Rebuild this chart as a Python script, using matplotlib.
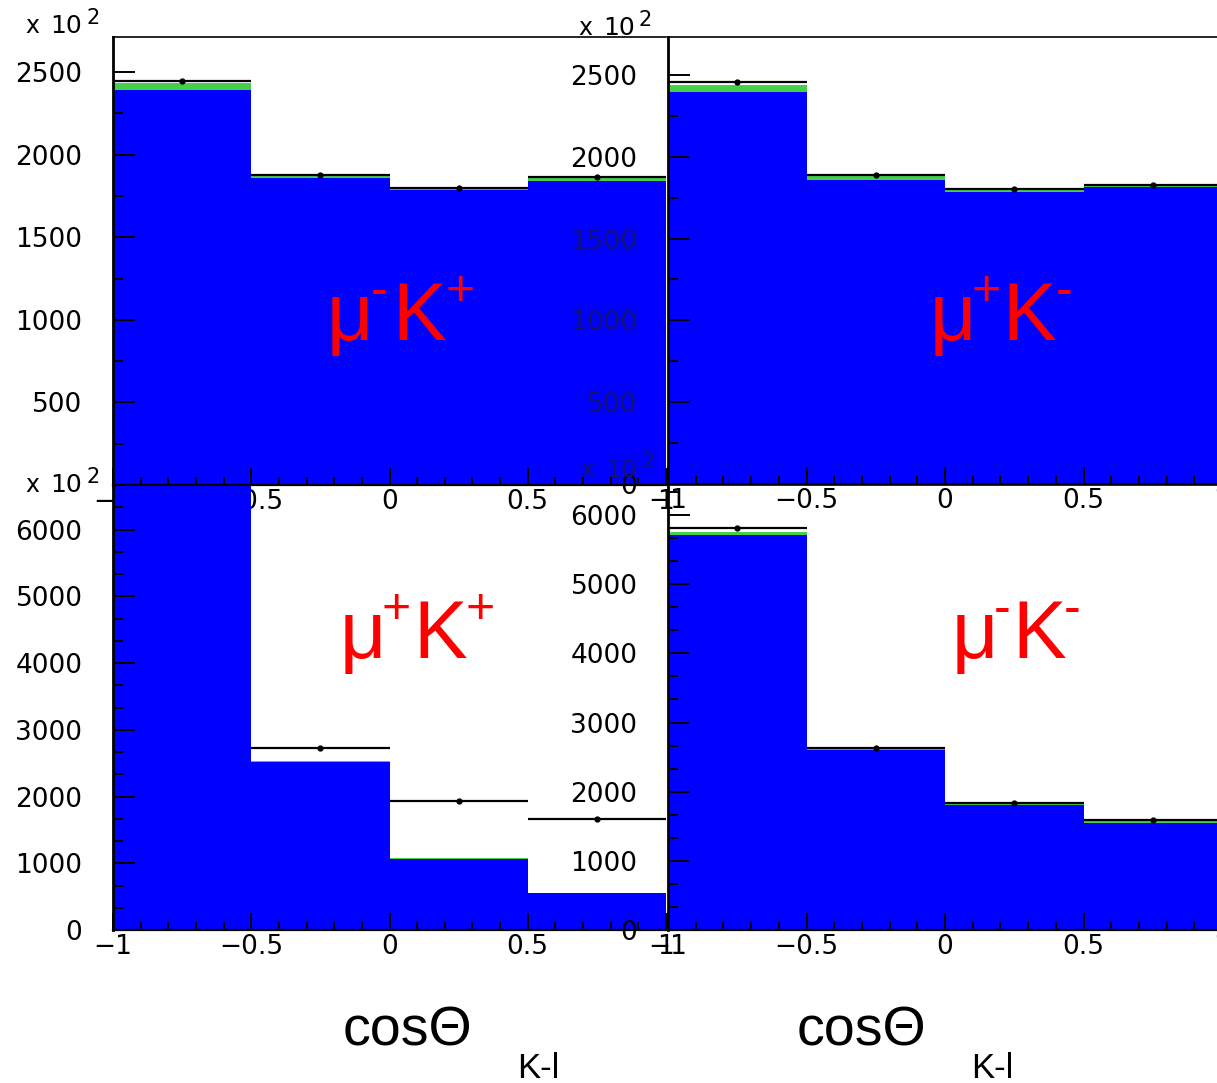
import numpy as np
import matplotlib
matplotlib.use('Agg')
import matplotlib.pyplot as plt
from matplotlib.ticker import MultipleLocator

plt.rcParams['font.family'] = ['DejaVu Sans']

W, H = 1217, 1083

# bin edges of cos(theta_K-l)
edges = [-1.0, -0.5, 0.0, 0.5, 1.0]
centers = [-0.75, -0.25, 0.25, 0.75]

# mu- K+ (top left), values in units of 10^2
tl_blue = [2390, 1860, 1785, 1842]
tl_green = [2436, 1885, 1800, 1870]
tl_data = [2447, 1879, 1800, 1867]

# mu+ K- (top right)
tr_blue = [2398, 1858, 1784, 1815]
tr_green = [2439, 1880, 1800, 1830]
tr_data = [2459, 1888, 1802, 1827]

# mu+ K+ (bottom left), first bin off scale
bl_blue = [7000, 2519, 1065, 555]
bl_green = [7050, 2540, 1075, 562]
bl_data = [7100, 2729, 1934, 1664]

# mu- K- (bottom right)
br_blue = [5708, 2600, 1806, 1546]
br_green = [5760, 2640, 1830, 1575]
br_data = [5809, 2630, 1835, 1590]

# channel labels: (muon sign, kaon sign)
channels = [('-', '+'), ('+', '-'), ('+', '+'), ('-', '-')]


def fx(x):
    return x / W


def fy(y):
    return 1 - y / H


fig = plt.figure(figsize=(W / 100, H / 100), dpi=100)
fig.patch.set_facecolor('white')


def panel(left, right, top, bottom, ymax, ystep, yminor, blue, green, data):
    ax = fig.add_axes([fx(left), fy(bottom), (right - left) / W, (bottom - top) / H])
    ax.set_facecolor('none')
    ax.stairs(blue, edges, baseline=0, fill=True, color='#0000ff', lw=0)
    ax.stairs(green, edges, baseline=blue, fill=True, color='#44d04a', lw=0)
    ax.errorbar(centers, data, xerr=0.25, fmt='o', ms=3.5, color='black',
                elinewidth=1.6, capsize=0)
    ax.set_xlim(-1, 1)
    ax.set_ylim(0, ymax)
    ax.xaxis.set_major_locator(MultipleLocator(0.5))
    ax.xaxis.set_minor_locator(MultipleLocator(0.1))
    ax.yaxis.set_major_locator(MultipleLocator(ystep))
    ax.yaxis.set_minor_locator(MultipleLocator(yminor))
    ax.xaxis.set_major_formatter(lambda v, p: ('%g' % v).replace('-', '\u2212'))
    ax.tick_params(axis='both', which='both', direction='in', width=1.4,
                   labelsize=19, colors='black')
    ax.tick_params(axis='y', which='major', length=16, pad=22)
    ax.tick_params(axis='y', which='minor', length=7)
    ax.tick_params(axis='x', which='major', length=12, pad=3)
    ax.tick_params(axis='x', which='minor', length=6)
    ax.spines['right'].set_visible(False)
    ax.spines['left'].set_linewidth(2)
    ax.spines['bottom'].set_linewidth(1.6)
    ax.spines['top'].set_linewidth(1.2)
    return ax


ax_tl = panel(113, 666, 37, 485, 2712, 500, 250, tl_blue, tl_green, tl_data)
ax_tl.yaxis.set_major_formatter(lambda v, p: '' if v == 0 else '%d' % v)
ax_tr = panel(668, 1222, 37, 484, 2732, 500, 250, tr_blue, tr_green, tr_data)
for lab in ax_tr.get_yticklabels():
    if 0 < lab.get_position()[1] < 1800:
        lab.set_color('#12127a')
ax_bl = panel(113, 666, 485, 930, 6670, 1000, 1000 / 3, bl_blue, bl_green, bl_data)
ax_br = panel(668, 1222, 485, 930, 6434, 1000, 1000 / 3, br_blue, br_green, br_data)

# x 10^2 multipliers
for x0, yb, col in [(25, 33, 'black'), (578, 35, 'black'), (25, 492, 'black'), (580, 477, '#12127a')]:
    fig.text(fx(x0), fy(yb), 'x', fontsize=17, color=col, va='baseline')
    fig.text(fx(x0 + 25), fy(yb), '10', fontsize=18, color=col, va='baseline')
    fig.text(fx(x0 + 61), fy(yb - 9), '2', fontsize=15, color=col, va='baseline')

# channel labels, pieces placed by hand like the original
label_pos = [(327, 340, [0, 44, 65, 118]), (930, 340, [0, 42, 72, 126]),
             (340, 658, [0, 42, 73, 126]), (952, 658, [0, 42, 60, 112])]
for (x0, yb, dx), (s1, s2) in zip(label_pos, channels):
    for off, txt, big in zip(dx, ['μ', s1, 'K', s2], [True, False, True, False]):
        if big:
            fig.text(fx(x0 + off), fy(yb), txt, fontsize=58, color='#ff0000',
                     family='Liberation Sans', va='baseline')
        else:
            fig.text(fx(x0 + off), fy(yb - 35), txt, fontsize=36, color='#ff0000',
                     family='Liberation Sans', va='baseline')

# axis titles
for x0 in [343, 797]:
    fig.text(fx(x0), fy(1045), 'cosΘ', fontsize=40, family='Liberation Sans', va='baseline')
    fig.text(fx(x0 + 174), fy(1078), 'K-l', fontsize=25, family='Liberation Sans', va='baseline')

fig.savefig('out.png', dpi=100)
